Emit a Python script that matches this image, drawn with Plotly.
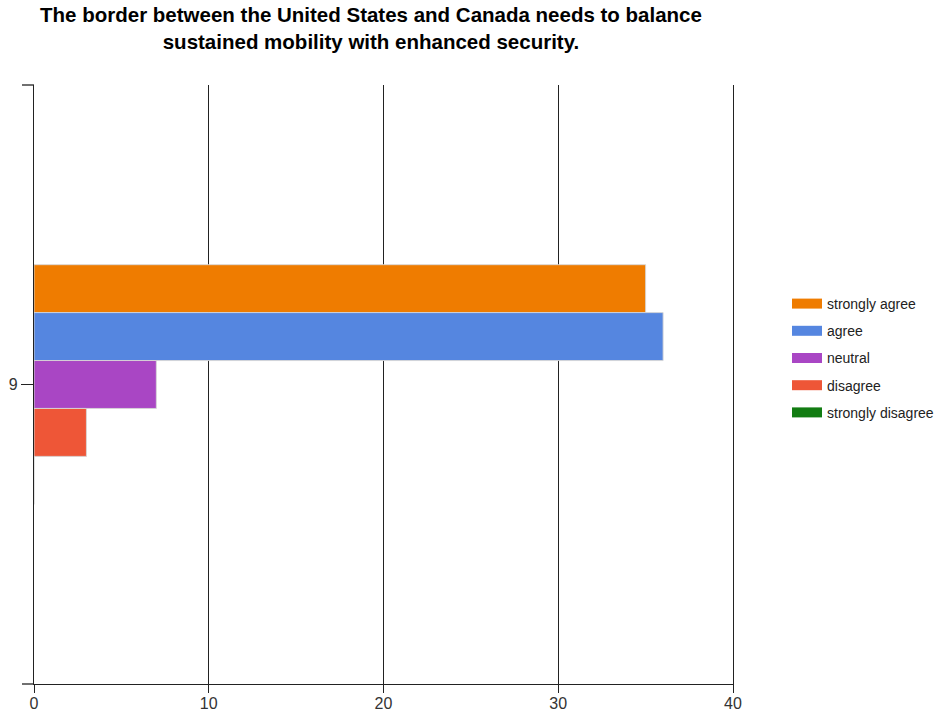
import plotly.graph_objects as go

# Survey responses for statement 9
question = ["9"]
responses = ["strongly agree", "agree", "neutral", "disagree", "strongly disagree"]
counts = [35, 36, 7, 3, 0]
colors = ["#EF7C00", "#5586E0", "#A946C4", "#EE5637", "#127C12"]

title_text = ("The border between the United States and Canada needs to balance<br>"
              "sustained mobility with enhanced security.")

fig = go.Figure()

for name, value, color in zip(responses, counts, colors):
    fig.add_trace(go.Bar(
        y=question, x=[value], name=name, orientation="h",
        marker=dict(color=color, line=dict(color="rgba(215,215,215,0.9)", width=1)),
        showlegend=False,
    ))

# Legend entries drawn as wide swatches
for i, (name, color) in enumerate(zip(responses, colors)):
    fig.add_trace(go.Scatter(
        x=[None], y=[None], mode="lines", name=name,
        line=dict(color=color, width=10), legendgroup=f"g{i}",
    ))

axis_color = "#222222"
base_font = "Liberation Sans, Arial, sans-serif"
tick_font = dict(family=base_font, size=16, color="#333333")

fig.update_layout(
    width=940, height=712,
    margin=dict(l=34, r=207, t=85, b=28, autoexpand=False),
    paper_bgcolor="white", plot_bgcolor="white",
    barmode="group", bargap=0.6, bargroupgap=0,
    title=dict(
        text=title_text, x=371 / 940, xanchor="center", y=(712 - 22) / 712, yanchor="top",
        font=dict(family=base_font, size=20.5, color="#000000", weight="bold"),
    ),
    xaxis=dict(
        range=[0, 40], dtick=10, tick0=0, automargin=False,
        showgrid=True, gridcolor=axis_color, gridwidth=1.3,
        showline=True, linecolor=axis_color, linewidth=1.3,
        ticks="outside", ticklen=8, tickcolor=axis_color, tickwidth=1.3,
        ticklabelstandoff=-3,
        zeroline=False, tickfont=tick_font, fixedrange=True,
    ),
    yaxis=dict(
        type="category", range=[0.5, -0.5], automargin=False,
        showline=True, linecolor=axis_color, linewidth=1.3, mirror=True,
        ticks="outside", ticklen=12, tickcolor=axis_color, tickwidth=1.3,
        showgrid=False, zeroline=False, tickfont=tick_font, fixedrange=True,
    ),
    legend=dict(
        x=(787 - 34) / 699, xanchor="left", y=(684 - 288) / 599, yanchor="top",
        font=dict(family=base_font, size=14, color="#222222"),
        tracegroupgap=6, itemwidth=30, bgcolor="rgba(0,0,0,0)",
    ),
)

# Category boundary ticks on the value-label axis
for yp in (0, 1):
    fig.add_shape(type="line", xref="paper", yref="paper",
                  x0=-12 / 699, x1=0, y0=yp, y1=yp,
                  line=dict(color=axis_color, width=1.3))

fig.write_html("out.html")
